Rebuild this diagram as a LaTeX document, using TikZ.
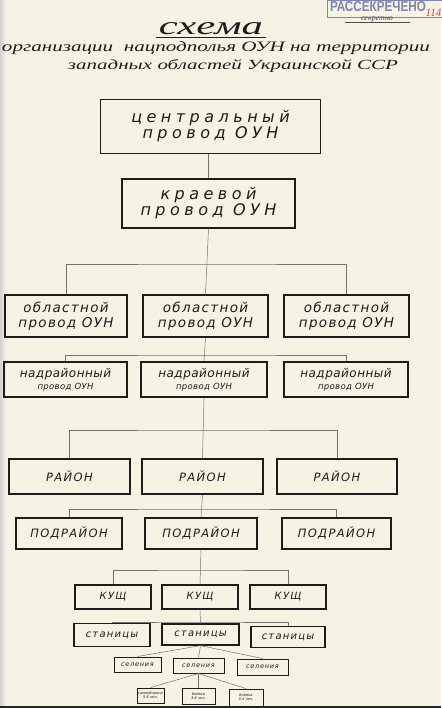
\documentclass[tikz,border=0pt]{standalone}
\usepackage{fontspec}
\usepackage{graphicx}
\setmainfont{Liberation Serif}
\newfontfamily\handfont{DejaVu Sans}[ItalicFont={DejaVu Sans Oblique}]
\newfontfamily\stampfont{Liberation Sans}
\definecolor{paper}{HTML}{F6F2E4}
\definecolor{ink}{HTML}{1C1C1C}
\definecolor{stampblue}{HTML}{7E86B2}
\definecolor{pencil}{HTML}{CC4B4B}

\begin{document}
\begin{tikzpicture}[x=1pt, y=-1pt,
  unit/.style={draw=ink, line width=1.5pt, inner sep=0pt, align=center, text=ink},
  lvlA/.style={unit, font=\handfont\itshape\fontsize{16}{16}\selectfont\addfontfeature{LetterSpace=28}},
  lvlB/.style={unit, font=\handfont\itshape\fontsize{13.5}{15}\selectfont\addfontfeature{LetterSpace=10}},
  lvlC/.style={unit, font=\handfont\itshape\fontsize{12}{12}\selectfont\addfontfeature{LetterSpace=4}},
  lvlD/.style={unit, font=\handfont\itshape\fontsize{11.5}{12}\selectfont\addfontfeature{LetterSpace=12}},
  lvlE/.style={unit, line width=1.2pt, font=\handfont\itshape\fontsize{10}{11}\selectfont\addfontfeature{LetterSpace=12}},
  lvlF/.style={unit, line width=1pt, font=\handfont\itshape\fontsize{6.5}{7}\selectfont\addfontfeature{LetterSpace=12}},
  lvlG/.style={unit, line width=0.9pt, font=\handfont\itshape\fontsize{3.6}{4}\selectfont},
  link/.style={black!55, line width=0.5pt}]

\useasboundingbox[fill=paper] (0,0) rectangle (441,708);
\fill[left color=black!18, right color=paper] (0,0) rectangle (6,708);
\fill[black!85] (0,706) rectangle (441,708);

% stamp
\node[draw=stampblue, line width=0.8pt, inner sep=0pt,
  minimum width=116pt, minimum height=17pt] (stamp) at (385,8.5) {};
\node[text=stampblue, inner sep=0pt, font=\stampfont\bfseries] (stamptext) at (378,6.5)
  {\resizebox{96pt}{10pt}{РАССЕКРЕЧЕНО}};
\node[anchor=base, inner sep=0pt, text=black!70, font=\itshape\fontsize{8}{8}\selectfont] (secret) at (377,21) {секретно};
\draw[black!70, line width=0.6pt] (345,22.5) -- (410,22.5);
\node[anchor=base, text=pencil, font=\itshape\fontsize{11}{11}\selectfont] (folio) at (433.5,17) {114};

% title
\node[anchor=base, inner sep=0pt, text=ink] (title) at (211,35) {\resizebox{104pt}{12pt}{\itshape схема}};
\draw[ink, line width=0.8pt] ([xshift=-3pt,yshift=-2pt]title.south west) -- ([xshift=3pt,yshift=-2pt]title.south east);
\node[anchor=base, inner sep=0pt, text=ink] (sub1) at (216,52) {\resizebox{428pt}{10pt}{\itshape организации \ нацподполья ОУН на территории}};
\node[anchor=base, inner sep=0pt, text=ink] (sub2) at (233,70) {\resizebox{330pt}{10pt}{\itshape западных областей Украинской ССР}};

% boxes
\node[lvlA, minimum width=220pt, minimum height=54pt] (central) at (210.5,126.5) {центральный\\провод ОУН};
\node[lvlA, minimum width=173pt, minimum height=49pt] (region) at (208.5,203.5) {краевой\\провод ОУН};

\node[lvlB, minimum width=122pt, minimum height=42pt] (obl1) at (66,316) {областной\\провод ОУН};
\node[lvlB, minimum width=125pt, minimum height=42pt] (obl2) at (205.5,316) {областной\\провод ОУН};
\node[lvlB, minimum width=125pt, minimum height=42pt] (obl3) at (346.5,316) {областной\\провод ОУН};

\node[lvlC, minimum width=123pt, minimum height=35pt] (nad1) at (65.5,379.5) {надрайонный\\{\fontsize{8.5}{10}\selectfont провод ОУН}};
\node[lvlC, minimum width=126pt, minimum height=35pt] (nad2) at (204,379.5) {надрайонный\\{\fontsize{8.5}{10}\selectfont провод ОУН}};
\node[lvlC, minimum width=124pt, minimum height=35pt] (nad3) at (346,379.5) {надрайонный\\{\fontsize{8.5}{10}\selectfont провод ОУН}};

\node[lvlD, minimum width=121pt, minimum height=35pt] (rai1) at (69.5,476.5) {РАЙОН};
\node[lvlD, minimum width=121pt, minimum height=35pt] (rai2) at (202.5,476.5) {РАЙОН};
\node[lvlD, minimum width=120pt, minimum height=35pt] (rai3) at (337,476.5) {РАЙОН};

\node[lvlD, minimum width=106pt, minimum height=31pt] (pod1) at (69,533.5) {ПОДРАЙОН};
\node[lvlD, minimum width=112pt, minimum height=31pt] (pod2) at (201,533.5) {ПОДРАЙОН};
\node[lvlD, minimum width=109pt, minimum height=31pt] (pod3) at (336.5,533.5) {ПОДРАЙОН};

\node[lvlE, minimum width=76pt, minimum height=24pt] (kushch1) at (113,597) {КУЩ};
\node[lvlE, minimum width=76pt, minimum height=24pt] (kushch2) at (200,597) {КУЩ};
\node[lvlE, minimum width=76pt, minimum height=24pt] (kushch3) at (288,597) {КУЩ};

\node[lvlE, minimum width=76pt, minimum height=23pt] (stan1) at (112,635) {станицы};
\node[lvlE, minimum width=77pt, minimum height=21pt] (stan2) at (200.5,634.5) {станицы};
\node[lvlE, minimum width=74pt, minimum height=21pt] (stan3) at (288,637) {станицы};

\node[lvlF, minimum width=47pt, minimum height=15pt] (sel1) at (137.5,664.5) {селения};
\node[lvlF, minimum width=51pt, minimum height=15pt] (sel2) at (198.5,665.5) {селения};
\node[lvlF, minimum width=51pt, minimum height=16pt] (sel3) at (262.5,667) {селения};

\node[lvlG, minimum width=27pt, minimum height=15pt] (cell1) at (150.5,695.5) {самооборона\\5-6 чел.};
\node[lvlG, minimum width=33pt, minimum height=16pt] (cell2) at (198.5,696) {боёвка\\3-6 чел.};
\node[lvlG, minimum width=34pt, minimum height=17pt] (cell3) at (246,697.5) {боёвка\\3-4 чел.};

% connectors
\coordinate (bus1) at (208,264);
\coordinate (bus2) at (208,355);
\coordinate (bus3) at (204,430);
\coordinate (bus4) at (204,509);
\coordinate (bus5) at (202,570);
\coordinate (bus6) at (200,622);

\draw[link] (region.north) -- (region.north |- central.south);
\draw[link] (region.south) -- (obl2.north);
\draw[link] (obl1.north) |- (bus1) -| (obl3.north);
\draw[link] (obl2.south) -- (nad2.north);
\draw[link] (nad1.north) |- (bus2) -| (nad3.north);
\draw[link] (nad2.south) -- (rai2.north);
\draw[link] (rai1.north) |- (bus3) -| (rai3.north);
\draw[link] (rai2.south) -- (pod2.north);
\draw[link] (pod1.north) |- (bus4) -| (pod3.north);
\draw[link] (pod2.south) -- (kushch2.north);
\draw[link] (kushch1.north) |- (bus5) -| (kushch3.north);
\draw[link] (kushch2.south) -- (stan2.north);
\draw[link] (stan1.north) |- (bus6) -| (stan3.north);
\draw[link] (stan2.south) -- (sel1.north);
\draw[link] (stan2.south) -- (sel2.north);
\draw[link] (stan2.south) -- (sel3.north);
\draw[link] (sel2.south) -- (cell1.north);
\draw[link] (sel2.south) -- (cell2.north);
\draw[link] (sel2.south) -- (cell3.north);
\end{tikzpicture}
\end{document}
